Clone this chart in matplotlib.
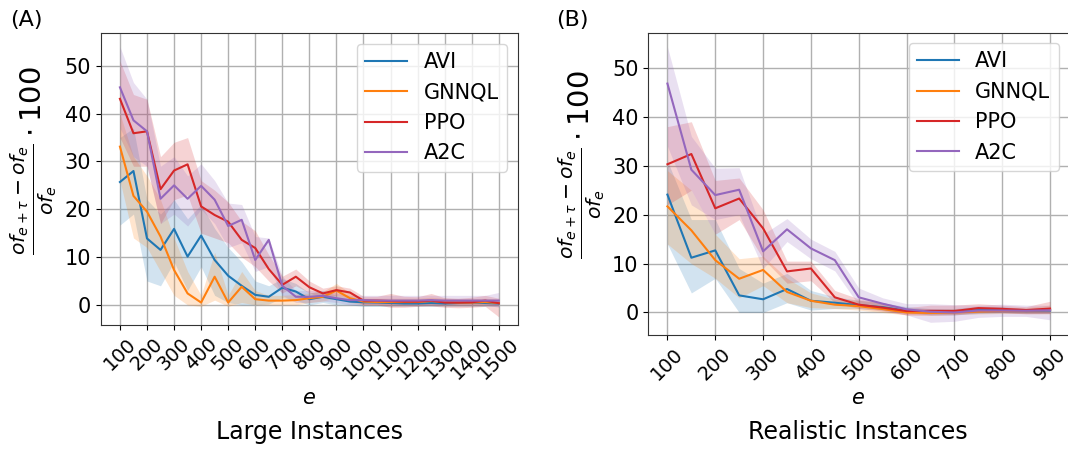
import numpy as np
import matplotlib
matplotlib.use("Agg")
import matplotlib.pyplot as plt

plt.rcParams['font.family'] = ['DejaVu Sans']

# ---------------- Data: Large Instances ----------------
large_e = list(range(100, 1501, 50))

large_avi = [25.7, 28.0, 13.9, 11.5, 15.9, 10.1, 14.5, 9.4, 6.1, 4.0, 2.1, 1.7, 3.6, 2.8, 1.2,
             1.7, 1.2, 0.7, 0.55, 0.5, 0.4, 0.3, 0.3, 0.4, 0.3, 0.4, 0.5, 0.4, 0.3]
large_avi_lo = [16.7, 19.0, 5.0, 4.0, 9.0, 3.0, 8.0, 2.0, 0.5, 0.0, 0.0, 0.2, 1.5, 1.0, 0.0,
                0.5, 0.0, 0.0, -0.3, -0.3, -0.3, -0.3, -0.3, -0.3, -0.3, -0.3, -0.3, -0.3, -0.3]
large_avi_hi = [35.0, 37.0, 22.0, 19.0, 22.0, 18.0, 21.0, 16.0, 12.0, 9.0, 5.0, 4.0, 5.5, 4.5, 2.5,
                3.0, 2.0, 1.5, 1.2, 1.2, 1.2, 1.2, 1.2, 1.2, 1.2, 1.2, 1.2, 1.2, 1.2]

large_gnnql = [33.1, 22.8, 19.5, 14.3, 7.3, 2.4, 0.5, 5.9, 0.5, 3.8, 1.2, 0.9, 0.9, 1.0, 1.4,
               1.7, 3.0, 1.4, 0.7, 0.6, 0.6, 0.6, 0.6, 0.8, 0.6, 0.5, 0.5, 0.6, 0.4]
large_gnnql_lo = [26.0, 14.0, 12.0, 7.0, 2.0, 0.0, -0.3, 1.0, -0.3, 0.5, 0.0, 0.0, 0.0, 0.0, 0.5,
                  0.8, 1.5, 0.5, 0.0, 0.0, 0.0, 0.0, 0.0, 0.0, 0.0, 0.0, 0.0, 0.0, 0.0]
large_gnnql_hi = [40.0, 31.0, 27.0, 22.0, 14.0, 7.0, 2.0, 11.0, 2.0, 7.0, 3.0, 2.0, 2.0, 2.2, 2.5,
                  2.8, 4.5, 2.5, 1.4, 1.4, 1.4, 1.4, 1.4, 1.6, 1.4, 1.3, 1.3, 1.4, 1.2]

large_ppo = [43.1, 35.9, 36.3, 24.2, 28.1, 29.4, 20.6, 18.8, 17.4, 13.6, 11.9, 7.5, 4.2, 5.9, 3.7,
             2.4, 3.1, 2.6, 0.9, 0.9, 0.8, 0.7, 0.7, 0.9, 0.5, 0.5, 0.55, 0.9, 0.35]
large_ppo_lo = [35.0, 29.0, 29.0, 17.0, 22.0, 23.0, 15.0, 14.0, 13.0, 10.0, 8.0, 5.0, 2.5, 4.0, 2.5,
                1.5, 2.0, 1.5, 0.0, 0.0, -0.5, -0.5, -0.3, -0.2, -0.5, -0.6, -0.5, -0.3, -2.5]
large_ppo_hi = [51.0, 44.0, 43.0, 31.0, 34.0, 35.0, 26.0, 24.0, 21.5, 17.5, 15.5, 10.5, 6.0, 7.5, 5.0,
                3.5, 4.0, 3.5, 1.8, 1.8, 2.4, 1.8, 1.7, 2.4, 1.5, 1.4, 1.6, 2.0, 1.4]

large_a2c = [45.5, 38.6, 36.3, 22.2, 25.0, 22.2, 24.9, 22.0, 16.5, 17.8, 9.4, 13.6, 4.0, 1.7, 1.7,
             1.9, 1.4, 1.0, 1.0, 0.9, 0.9, 0.9, 0.9, 1.0, 0.9, 0.9, 0.9, 0.9, 0.9]
large_a2c_lo = [37.0, 31.0, 29.0, 17.0, 19.0, 16.5, 20.0, 17.0, 12.0, 13.0, 7.0, 8.0, 2.0, 0.5, 0.5,
                0.8, 0.5, 0.0, 0.0, 0.0, 0.0, 0.0, 0.0, 0.0, 0.0, 0.0, 0.0, 0.0, -0.5]
large_a2c_hi = [54.0, 46.5, 43.0, 29.0, 31.0, 27.0, 29.5, 26.0, 21.3, 21.0, 14.3, 14.0, 6.0, 3.0, 3.0,
                3.0, 2.5, 2.0, 2.0, 2.0, 2.0, 2.0, 2.0, 2.0, 2.0, 2.0, 2.0, 2.0, 2.6]

# ---------------- Data: Realistic Instances ----------------
real_e = list(range(100, 901, 50))

real_avi = [24.1, 11.2, 12.7, 3.5, 2.7, 4.8, 2.4, 2.0, 1.5, 1.1, 0.35, 0.1, 0.1, 0.5, 0.5, 0.3, 0.4]
real_avi_lo = [14.0, 4.0, 7.0, 0.0, 0.0, 2.0, 0.5, 0.8, 0.8, 0.5, 0.0, -0.5, -0.5, -0.2, 0.0, -0.2, -0.2]
real_avi_hi = [31.0, 19.0, 19.0, 9.0, 6.0, 8.0, 4.5, 3.2, 2.5, 2.0, 1.2, 0.8, 0.8, 1.3, 1.2, 0.8, 1.0]

real_gnnql = [21.7, 16.8, 10.7, 6.9, 8.7, 4.2, 2.4, 1.6, 1.3, 0.7, 0.0, -0.1, 0.0, 0.2, 0.35, 0.35, 0.5]
real_gnnql_lo = [14.0, 10.0, 7.0, 3.0, 5.5, 2.0, 1.0, 0.8, 0.5, 0.0, -0.5, -0.6, -0.4, -0.3, -0.2, -0.2, -0.3]
real_gnnql_hi = [29.0, 25.0, 16.0, 11.0, 11.5, 7.0, 4.0, 2.7, 2.5, 2.0, 0.8, 0.6, 0.8, 0.9, 1.0, 1.0, 1.5]

real_ppo = [30.3, 32.4, 21.3, 23.3, 17.2, 8.4, 9.0, 3.1, 1.6, 1.0, 0.3, 0.35, 0.3, 0.9, 0.75, 0.5, 0.8]
real_ppo_lo = [22.0, 25.0, 16.0, 19.0, 11.0, 6.0, 6.5, 2.0, 0.8, 0.3, -0.5, -0.5, -0.5, 0.0, 0.0, -0.3, -0.2]
real_ppo_hi = [38.0, 39.0, 27.0, 27.5, 21.0, 10.5, 10.5, 4.5, 2.8, 2.0, 1.0, 1.5, 1.5, 1.8, 1.5, 1.2, 2.3]

real_a2c = [46.8, 29.2, 24.0, 25.1, 12.5, 17.0, 13.1, 10.7, 3.1, 1.8, 0.65, 0.15, 0.0, 0.4, 0.4, 0.35, 0.45]
real_a2c_lo = [34.0, 22.0, 19.0, 20.0, 9.0, 14.5, 11.0, 8.5, 1.5, 0.5, -0.5, -2.0, -1.8, -1.0, -0.8, -0.8, -1.5]
real_a2c_hi = [54.3, 36.0, 29.5, 29.6, 16.0, 19.2, 15.0, 12.5, 5.0, 3.0, 1.8, 1.8, 1.6, 1.5, 1.7, 1.5, 1.5]

labels = ['AVI', 'GNNQL', 'PPO', 'A2C']
colors = ['#1f77b4', '#ff7f0e', '#d62728', '#9467bd']

large_series = [(large_avi, large_avi_lo, large_avi_hi),
                (large_gnnql, large_gnnql_lo, large_gnnql_hi),
                (large_ppo, large_ppo_lo, large_ppo_hi),
                (large_a2c, large_a2c_lo, large_a2c_hi)]
real_series = [(real_avi, real_avi_lo, real_avi_hi),
               (real_gnnql, real_gnnql_lo, real_gnnql_hi),
               (real_ppo, real_ppo_lo, real_ppo_hi),
               (real_a2c, real_a2c_lo, real_a2c_hi)]

large_ticks = list(range(100, 1501, 100))
real_ticks = list(range(100, 901, 100))
y_ticks = [0, 10, 20, 30, 40, 50]

W, H = 1068, 449
fig = plt.figure(figsize=(W / 100, H / 100), dpi=100)
axA = fig.add_axes([101 / W, 1 - 325 / H, 416.7 / W, 291.7 / H])
axB = fig.add_axes([648.3 / W, 1 - 335 / H, 420.9 / W, 302.3 / H])

ylabel = r'$\frac{of_{e+\tau}-of_{e}}{of_{e}}\cdot 100$'

def draw(ax, xs, series, ticks, xlim, ylim, ylab_y):
    for (m, lo, hi), lab, c in zip(series, labels, colors):
        ax.fill_between(xs, lo, hi, color=c, alpha=0.2, linewidth=0)
        ax.plot(xs, m, color=c, lw=1.5, label=lab)
    ax.set_xticks(ticks)
    ax.set_yticks(y_ticks)
    ax.set_xlim(*xlim)
    ax.set_ylim(*ylim)
    ax.grid(True, color='#b0b0b0', lw=1.0)
    ax.set_axisbelow(True)
    ax.tick_params(axis='y', labelsize=15)
    ax.tick_params(axis='x', labelsize=14)
    for lbl in ax.get_xticklabels():
        lbl.set_rotation(45)
    ax.set_ylabel(ylabel, fontsize=21)
    ax.yaxis.label.set_y(ylab_y)
    ax.legend(loc='upper right', fontsize=15, framealpha=0.8)
    for s in ax.spines.values():
        s.set_color('#333333')

draw(axA, large_e, large_series, large_ticks, (30, 1570), (-4.2, 56.8), 0.565)
draw(axB, real_e, real_series, real_ticks, (60, 940), (-4.6, 57.2), 0.565)

# x labels: "e" and titles beneath
fig.text(309 / W, 1 - 398 / H, '$e$', fontsize=15, ha='center', va='center')
fig.text(309 / W, 1 - 432 / H, 'Large Instances', fontsize=17, ha='center', va='center')
fig.text(858 / W, 1 - 398 / H, '$e$', fontsize=15, ha='center', va='center')
fig.text(858 / W, 1 - 432 / H, 'Realistic Instances', fontsize=17, ha='center', va='center')

fig.text(10 / W, 1 - 20 / H, '(A)', fontsize=16, ha='left', va='center')
fig.text(556 / W, 1 - 20 / H, '(B)', fontsize=16, ha='left', va='center')

fig.savefig('out.png', dpi=100)
